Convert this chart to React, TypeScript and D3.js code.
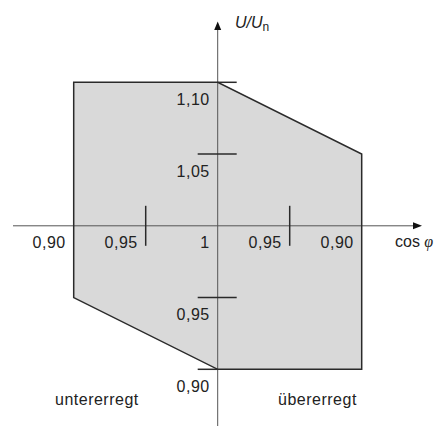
import React from "react";
import * as d3 from "d3";

// signed deviation: negative = untererregt (left), positive = übererregt (right)
const xTickValues = [-0.1, -0.05, 0, 0.05, 0.1];
const xTickLabels = ["0,90", "0,95", "1", "0,95", "0,90"];
const xMinorTicks = [-0.05, 0.05];
const yTickValues = [1.1, 1.05, 0.95, 0.9];
const yTickLabels = ["1,10", "1,05", "0,95", "0,90"];
const polyX = [-0.1, 0, 0.1, 0.1, 0, -0.1];
const polyY = [1.1, 1.1, 1.05, 0.9, 0.9, 0.95];

const W = 435;
const H = 426;

export default function App() {
  const x = d3.scaleLinear().domain([-0.1, 0.1]).range([73.7, 361.7]);
  const y = d3.scaleLinear().domain([0.9, 1.1]).range([369.3, 82.3]);
  const x0 = x(0);
  const y0 = y(1);
  const pts: [number, number][] = polyX.map((v, i) => [v, polyY[i]]);
  const line = d3
    .line<[number, number]>()
    .x((d) => x(d[0]))
    .y((d) => y(d[1]))
    .curve(d3.curveLinearClosed);
  const font = "'Liberation Sans', Arial, sans-serif";
  const axisColor = "#555";
  const dark = "#2a2a2a";
  const fs = 16;
  const ls = 0.5;
  return (
    <svg
      width={W}
      height={H}
      style={{ position: "absolute", left: 0, top: 0, background: "#fff" }}
    >
      <path d={line(pts) || ""} fill="#d9d9d9" stroke="none" />
      {/* axes */}
      <line x1={13} x2={416} y1={y0} y2={y0} stroke={axisColor} strokeWidth={1} />
      <path
        d={`M${422},${y0} L${413},${y0 - 3.5} L${413},${y0 + 3.5} Z`}
        fill="#111"
      />
      <line x1={x0} x2={x0} y1={H} y2={28} stroke={axisColor} strokeWidth={1} />
      <path
        d={`M${x0},${21.5} L${x0 - 3.5},${30} L${x0 + 3.5},${30} Z`}
        fill="#111"
      />
      <path
        d={line(pts) || ""}
        fill="none"
        stroke={dark}
        strokeWidth={1.5}
        strokeLinejoin="miter"
      />
      {/* y ticks */}
      {yTickValues.map((v) => (
        <line
          key={"yt" + v}
          x1={v === 1.1 ? x0 : x0 - 20}
          x2={v === 0.9 ? x0 : x0 + 19}
          y1={y(v)}
          y2={y(v)}
          stroke={dark}
          strokeWidth={1.5}
        />
      ))}
      {yTickValues.map((v, i) => (
        <text
          key={"yl" + v}
          x={x0 - 8}
          y={y(v) + 22.5}
          textAnchor="end"
          fontFamily={font}
          fontSize={fs}
          letterSpacing={ls}
          fill="#222"
        >
          {yTickLabels[i]}
        </text>
      ))}
      {/* x minor ticks */}
      {xMinorTicks.map((v) => (
        <line
          key={"xt" + v}
          x1={x(v)}
          x2={x(v)}
          y1={y0 - 20}
          y2={y0 + 20}
          stroke={dark}
          strokeWidth={1.5}
        />
      ))}
      {xTickValues.map((v, i) => (
        <text
          key={"xl" + i}
          x={x(v) - 8}
          y={248}
          textAnchor="end"
          fontFamily={font}
          fontSize={fs}
          letterSpacing={ls}
          fill="#222"
        >
          {xTickLabels[i]}
        </text>
      ))}
      {/* axis titles */}
      <text x={395} y={247} fontFamily={font} fontSize={fs} fill="#222">
        cos{" "}
        <tspan fontFamily="'Liberation Serif', 'DejaVu Serif', serif" fontStyle="italic">
          φ
        </tspan>
      </text>
      <text x={235} y={28} fontFamily={font} fontSize={fs} fill="#222">
        <tspan fontStyle="italic">U/U</tspan>
        <tspan fontSize={12} dy={3}>
          n
        </tspan>
      </text>
      <text x={55} y={405} fontFamily={font} fontSize={fs} letterSpacing={ls} fill="#222">
        untererregt
      </text>
      <text x={278} y={405} fontFamily={font} fontSize={fs} letterSpacing={ls} fill="#222">
        übererregt
      </text>
    </svg>
  );
}
